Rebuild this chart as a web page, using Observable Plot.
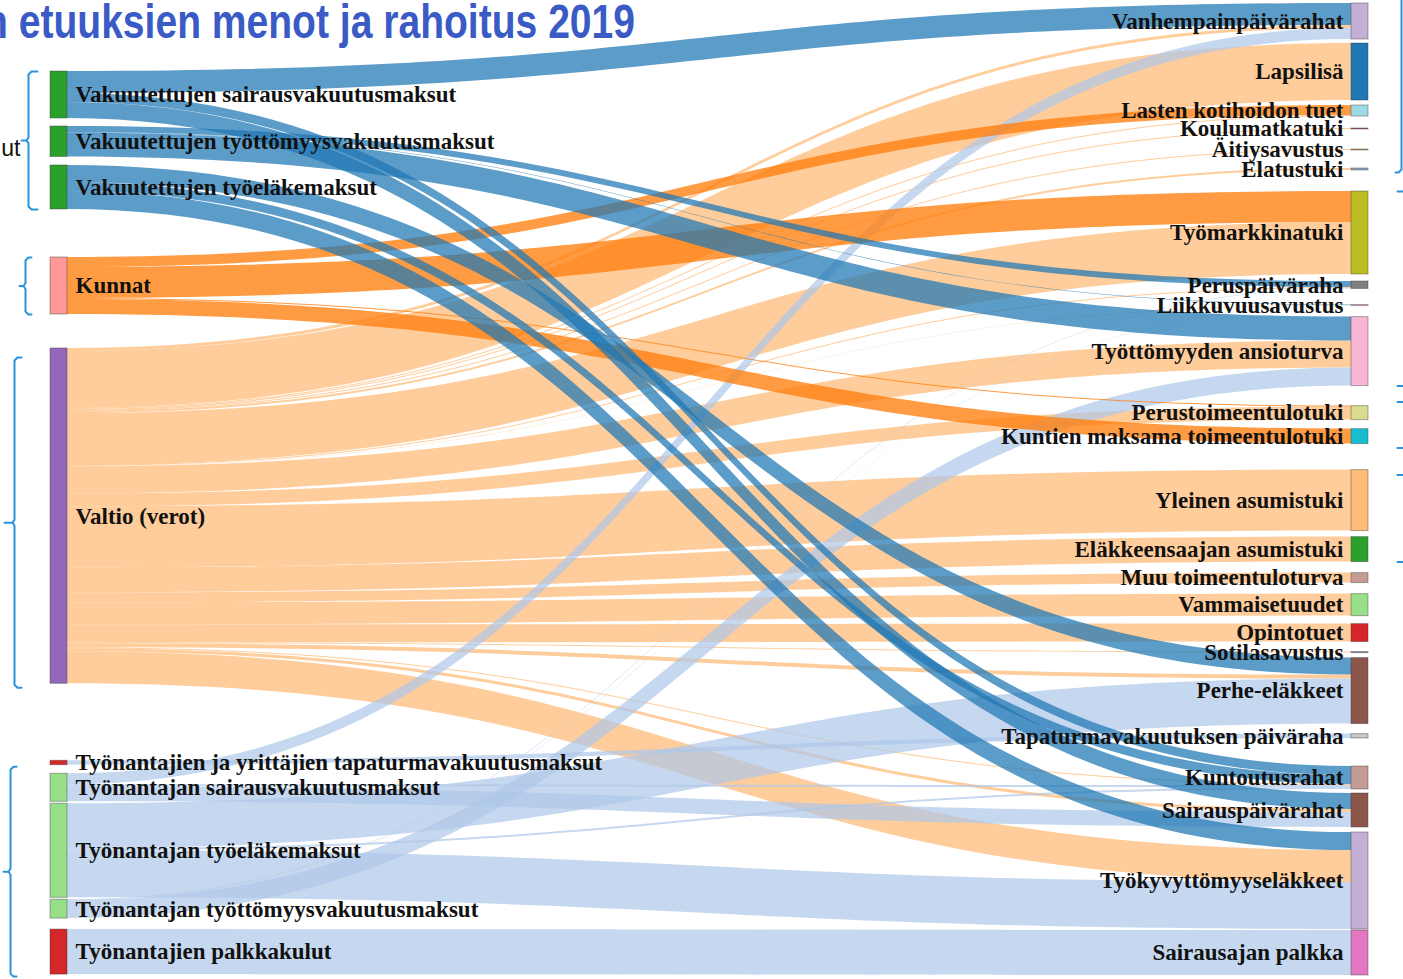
<!DOCTYPE html>
<html>
<head>
<meta charset="utf-8">
<script src="https://cdn.jsdelivr.net/npm/d3@7"></script>
<script src="https://cdn.jsdelivr.net/npm/@observablehq/plot@0.6"></script>
<style>
  html, body { margin: 0; padding: 0; background: #fff; overflow: hidden; }
  #chart svg { display: block; }
</style>
</head>
<body>
<div id="chart"></div>
<script>
// ---------------- DATA (milj. €) ----------------
const sources = [
  "Vakuutettujen sairausvakuutusmaksut",
  "Vakuutettujen työttömyysvakuutusmaksut",
  "Vakuutettujen työeläkemaksut",
  "Kunnat",
  "Valtio (verot)",
  "Työnantajien ja yrittäjien tapaturmavakuutusmaksut",
  "Työnantajan sairausvakuutusmaksut",
  "Työnantajan työeläkemaksut",
  "Työnantajan työttömyysvakuutusmaksut",
  "Työnantajien palkkakulut"
];
const sourceGroup = ["vakuutetut","vakuutetut","vakuutetut","kunnat","valtio",
  "tyonantajat","tyonantajat","tyonantajat","tyonantajat","tyonantajat"];

const targets = [
  "Vanhempainpäivärahat", "Lapsilisä", "Lasten kotihoidon tuet", "Koulumatkatuki",
  "Äitiysavustus", "Elatustuki", "Työmarkkinatuki", "Peruspäiväraha",
  "Liikkuvuusavustus", "Työttömyyden ansioturva", "Perustoimeentulotuki",
  "Kuntien maksama toimeentulotuki", "Yleinen asumistuki", "Eläkkeensaajan asumistuki",
  "Muu toimeentuloturva", "Vammaisetuudet", "Opintotuet", "Sotilasavustus",
  "Perhe-eläkkeet", "Tapaturmavakuutuksen päiväraha", "Kuntoutusrahat",
  "Sairauspäivärahat", "Työkyvyttömyyseläkkeet", "Sairausajan palkka"
];

const linkSource = [
  "Vakuutettujen sairausvakuutusmaksut", "Vakuutettujen sairausvakuutusmaksut", "Vakuutettujen sairausvakuutusmaksut",
  "Vakuutettujen työttömyysvakuutusmaksut", "Vakuutettujen työttömyysvakuutusmaksut", "Vakuutettujen työttömyysvakuutusmaksut",
  "Vakuutettujen työeläkemaksut", "Vakuutettujen työeläkemaksut", "Vakuutettujen työeläkemaksut",
  "Kunnat", "Kunnat", "Kunnat", "Kunnat",
  "Valtio (verot)", "Valtio (verot)", "Valtio (verot)", "Valtio (verot)", "Valtio (verot)",
  "Valtio (verot)", "Valtio (verot)", "Valtio (verot)", "Valtio (verot)", "Valtio (verot)",
  "Valtio (verot)", "Valtio (verot)", "Valtio (verot)", "Valtio (verot)", "Valtio (verot)",
  "Valtio (verot)", "Valtio (verot)", "Valtio (verot)", "Valtio (verot)", "Valtio (verot)",
  "Valtio (verot)",
  "Työnantajien ja yrittäjien tapaturmavakuutusmaksut",
  "Työnantajan sairausvakuutusmaksut", "Työnantajan sairausvakuutusmaksut", "Työnantajan sairausvakuutusmaksut",
  "Työnantajan työeläkemaksut", "Työnantajan työeläkemaksut", "Työnantajan työeläkemaksut",
  "Työnantajan työttömyysvakuutusmaksut", "Työnantajan työttömyysvakuutusmaksut", "Työnantajan työttömyysvakuutusmaksut",
  "Työnantajien palkkakulut"
];
const linkTarget = [
  "Vanhempainpäivärahat", "Kuntoutusrahat", "Sairauspäivärahat",
  "Peruspäiväraha", "Liikkuvuusavustus", "Työttömyyden ansioturva",
  "Perhe-eläkkeet", "Kuntoutusrahat", "Työkyvyttömyyseläkkeet",
  "Lasten kotihoidon tuet", "Työmarkkinatuki", "Perustoimeentulotuki", "Kuntien maksama toimeentulotuki",
  "Vanhempainpäivärahat", "Lapsilisä", "Lasten kotihoidon tuet", "Koulumatkatuki", "Äitiysavustus",
  "Elatustuki", "Työmarkkinatuki", "Peruspäiväraha", "Liikkuvuusavustus", "Työttömyyden ansioturva",
  "Perustoimeentulotuki", "Yleinen asumistuki", "Eläkkeensaajan asumistuki", "Muu toimeentuloturva", "Vammaisetuudet",
  "Opintotuet", "Sotilasavustus", "Perhe-eläkkeet", "Kuntoutusrahat", "Sairauspäivärahat",
  "Työkyvyttömyyseläkkeet",
  "Tapaturmavakuutuksen päiväraha",
  "Vanhempainpäivärahat", "Kuntoutusrahat", "Sairauspäivärahat",
  "Perhe-eläkkeet", "Kuntoutusrahat", "Työkyvyttömyyseläkkeet",
  "Peruspäiväraha", "Liikkuvuusavustus", "Työttömyyden ansioturva",
  "Sairausajan palkka"
];
const linkValue = [
  550, 225, 400,
  150, 12, 600,
  425, 225, 450,
  250, 775, 25, 375,
  75, 1425, 25, 25, 25,
  50, 1300, 25, 8, 675,
  325, 1525, 625, 250, 550,
  450, 25, 100, 25, 75,
  800,
  110,
  275, 50, 375,
  1125, 50, 1175,
  12, 8, 450,
  1125
];

// ---------------- STYLE / LAYOUT ----------------
const sourceColors = ["#2ca02c","#2ca02c","#2ca02c","#ff9896","#9467bd","#d62728","#98df8a","#98df8a","#98df8a","#d62728"];
const targetColors = ["#c5b0d5","#1f77b4","#9edae5","#a86a6a","#c4935e","#94a8c8","#bcbd22","#7f7f7f",
  "#f0a8c8","#f7b6d2","#dbdb8d","#17becf","#ffbb78","#2ca02c","#c49c94","#98df8a","#d62728","#8a7aa8",
  "#8c564b","#c7c7c7","#c49c94","#8c564b","#c5b0d5","#e377c2"];
const linkColor = {vakuutetut: "#1f77b4", kunnat: "#ff7f0e", valtio: "#ffbb78", tyonantajat: "#aec7e8"};
const linkOpacity = {vakuutetut: 0.73, kunnat: 0.78, valtio: 0.74, tyonantajat: 0.7};
const drawOrder = ["valtio", "tyonantajat", "kunnat", "vakuutetut"];

const W = 1403, H = 979;
const PX = 25;                       // M€ per screen pixel
const leftX = 50, rightX = 1351, nodeW = 17;
const leftGapsPx  = [71, 8, 8.5, 48, 34, 77, 8.6, 2, 2, 11];
const rightGapsPx = [3, 4, 5, 12, 20, 18, 21, 7, 16, 11, 20, 9, 26, 6, 11, 11, 8, 10, 5, 10, 28, 4, 5, 1];

// ---------------- LAYOUT COMPUTATION ----------------
const sIdx = new Map(sources.map((s, i) => [s, i]));
const tIdx = new Map(targets.map((t, i) => [t, i]));
const srcTotal = new Map(sources.map(s => [s, 0]));
const tgtTotal = new Map(targets.map(t => [t, 0]));
linkValue.forEach((v, i) => {
  srcTotal.set(linkSource[i], srcTotal.get(linkSource[i]) + v);
  tgtTotal.set(linkTarget[i], tgtTotal.get(linkTarget[i]) + v);
});
function stackColumn(names, totals, gaps, colors) {
  let y = 0;
  return names.map((n, i) => {
    y += gaps[i] * PX;
    const o = {name: n, y1: y, y2: y + totals.get(n), color: colors[i]};
    y = o.y2;
    return o;
  });
}
const leftNodes = stackColumn(sources, srcTotal, leftGapsPx, sourceColors);
const rightNodes = stackColumn(targets, tgtTotal, rightGapsPx, targetColors);

const links = linkValue.map((v, i) => ({i, s: linkSource[i], t: linkTarget[i], v, g: sourceGroup[sIdx.get(linkSource[i])]}));
const sOff = new Map(leftNodes.map(n => [n.name, n.y1]));
const tOff = new Map(rightNodes.map(n => [n.name, n.y1]));
[...links].sort((a, b) => sIdx.get(a.s) - sIdx.get(b.s) || tIdx.get(a.t) - tIdx.get(b.t))
  .forEach(l => { l.sy = sOff.get(l.s); sOff.set(l.s, l.sy + l.v); });
[...links].sort((a, b) => tIdx.get(a.t) - tIdx.get(b.t) || sIdx.get(a.s) - sIdx.get(b.s))
  .forEach(l => { l.ty = tOff.get(l.t); tOff.set(l.t, l.ty + l.v); });

const linkRows = links.flatMap(l => [
  {id: l.i, g: l.g, x: leftX + nodeW, y1: l.sy, y2: l.sy + l.v},
  {id: l.i, g: l.g, x: rightX, y1: l.ty, y2: l.ty + l.v}
]);

// brackets (slide decorations) derived from node groups
function extent(nodes, from, to) { return [nodes[from].y1, nodes[to].y2]; }
const leftBrackets = [
  {e: extent(leftNodes, 0, 2), xv: 28, xr: 37, xn: 21},
  {e: extent(leftNodes, 3, 3), xv: 25, xr: 31, xn: 19},
  {e: [leftNodes[4].y1 + 9 * PX, leftNodes[4].y2 + 4 * PX], xv: 14, xr: 21, xn: 4},
  {e: [leftNodes[5].y1 + 6 * PX, leftNodes[9].y2 + 2 * PX], xv: 10, xr: 16, xn: 3}
];
const rightBrackets = [
  {e: [rightNodes[0].y1 - 10 * PX, rightNodes[5].y2 + 2 * PX], xv: 1401, xr: 1395},
  {e: extent(rightNodes, 6, 9), xv: 1407, xr: 1397},
  {e: [rightNodes[10].y1 - 4 * PX, rightNodes[11].y2 + 4 * PX], xv: 1407, xr: 1397},
  {e: [rightNodes[12].y1 + 5 * PX, rightNodes[13].y2], xv: 1407, xr: 1397}
];
const bracketRows = [];
leftBrackets.forEach((b, k) => {
  const [t, bt] = b.e, m = (t + bt) / 2, c = 3 * PX;
  [[b.xr, t], [b.xv + 3, t], [b.xv, t + c], [b.xv, m - c], [b.xv - 2, m], [b.xn, m],
   [b.xv - 2, m], [b.xv, m + c], [b.xv, bt - c], [b.xv + 3, bt], [b.xr, bt]]
    .forEach(([x, y]) => bracketRows.push({id: "L" + k, x, y}));
});
rightBrackets.forEach((b, k) => {
  const [t, bt] = b.e, c = 3 * PX;
  [[b.xr, t], [b.xv - 3, t], [b.xv, t + c], [b.xv, bt - c], [b.xv - 3, bt], [b.xr, bt]]
    .forEach(([x, y]) => bracketRows.push({id: "R" + k, x, y}));
});

const labelFont = {fontFamily: "Liberation Serif, Times New Roman, serif", fontWeight: "bold", fontSize: 23, fill: "#111"};

const chart = Plot.plot({
  width: W,
  height: H,
  margin: 0,
  x: {domain: [0, W], range: [0, W], axis: null},
  y: {domain: [0, H * PX], range: [0, H], axis: null},
  color: {type: "identity"},
  style: {background: "#fff"},
  marks: [
    ...drawOrder.map(g => Plot.areaY(linkRows.filter(r => r.g === g), {
      x: "x", y1: "y1", y2: "y2", z: "id",
      fill: linkColor[g], fillOpacity: linkOpacity[g], curve: "bump-x"
    })),
    Plot.rect(leftNodes, {x1: () => leftX, x2: () => leftX + nodeW, y1: "y1", y2: "y2",
      fill: "color", stroke: "#333", strokeOpacity: 0.4, strokeWidth: 1}),
    Plot.rect(rightNodes, {x1: () => rightX, x2: () => rightX + nodeW, y1: "y1", y2: "y2",
      fill: "color", stroke: "#333", strokeOpacity: 0.4, strokeWidth: 1}),
    Plot.text(leftNodes, {x: () => leftX + nodeW, y: d => (d.y1 + d.y2) / 2, text: "name",
      textAnchor: "start", dx: 8, ...labelFont}),
    Plot.text(rightNodes, {x: () => rightX, y: d => (d.y1 + d.y2) / 2, text: "name",
      textAnchor: "end", dx: -8, ...labelFont}),
    Plot.line(bracketRows, {x: "x", y: "y", z: "id", stroke: "#2a93dc", strokeWidth: 2, curve: "linear"}),
    Plot.text(["ut"], {x: () => 20, y: () => (leftNodes[0].y1 + leftNodes[2].y2) / 2, text: d => d,
      textAnchor: "end", dy: 8, fontFamily: "Liberation Sans, Arial, sans-serif", fontSize: 23, fill: "#111"})
  ]
});

d3.select(chart).append("text")
  .attr("x", -16).attr("y", 38)
  .attr("text-anchor", "start")
  .attr("font-family", "Liberation Sans, Arial, sans-serif")
  .attr("font-weight", "bold")
  .attr("font-size", 48)
  .attr("fill", "#3a5bc5")
  .attr("textLength", 651)
  .attr("lengthAdjust", "spacingAndGlyphs")
  .text("n etuuksien menot ja rahoitus 2019");

document.getElementById("chart").appendChild(chart);
</script>
</body>
</html>
